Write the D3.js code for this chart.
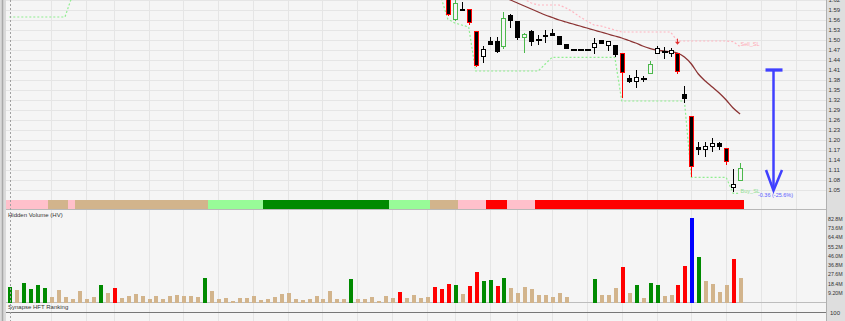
<!DOCTYPE html>
<html>
<head>
<meta charset="utf-8">
<script src="https://cdn.jsdelivr.net/npm/d3@7"></script>
<style>
  html, body { margin: 0; padding: 0; background: #f5f5f5; overflow: hidden; }
  text { font-family: "Liberation Sans", Arial, sans-serif; }
</style>
</head>
<body>
<div id="chart"></div>
<script>
// ---- data ----
// candles: first visible bar is day 63, earlier ones sit above the price range
const candleStart = 63;
const opens  = [1.635, 1.560, 1.592, 1.592, 1.527, 1.449, 1.497, 1.498, 1.478, 1.575, 1.558, 1.507, 1.528, 1.501, 1.515,
                1.520, 1.513, 1.487, 1.472, 1.472, 1.472, 1.475, 1.500, 1.482, 1.485, 1.462, 1.387, 1.375, 1.385, 1.398,
                1.458, 1.467, 1.458, 1.462, 1.338, 1.272, 1.178, 1.170, 1.180, 1.192, 1.177, 1.055, 1.077];
const highs  = [1.645, 1.625, 1.615, 1.592, 1.527, 1.482, 1.510, 1.509, 1.585, 1.577, 1.558, 1.521, 1.530, 1.515, 1.530,
                1.532, 1.513, 1.487, 1.472, 1.472, 1.472, 1.505, 1.500, 1.497, 1.485, 1.462, 1.395, 1.410, 1.393, 1.437,
                1.482, 1.479, 1.476, 1.462, 1.362, 1.272, 1.195, 1.195, 1.207, 1.195, 1.177, 1.113, 1.132];
const lows   = [1.572, 1.557, 1.587, 1.545, 1.420, 1.431, 1.485, 1.461, 1.472, 1.535, 1.500, 1.460, 1.482, 1.485, 1.492,
                1.512, 1.485, 1.472, 1.472, 1.472, 1.472, 1.457, 1.487, 1.467, 1.450, 1.325, 1.370, 1.355, 1.375, 1.398,
                1.458, 1.443, 1.450, 1.398, 1.310, 1.090, 1.155, 1.148, 1.165, 1.170, 1.125, 1.045, 1.077];
const closes = [1.575, 1.612, 1.587, 1.550, 1.422, 1.473, 1.485, 1.465, 1.567, 1.558, 1.505, 1.518, 1.495, 1.502, 1.508,
                1.512, 1.485, 1.472, 1.472, 1.472, 1.472, 1.490, 1.487, 1.497, 1.455, 1.400, 1.375, 1.390, 1.385, 1.428,
                1.475, 1.464, 1.470, 1.405, 1.323, 1.120, 1.170, 1.182, 1.192, 1.180, 1.135, 1.068, 1.117];
// candle outline: r = red border, g = green border, - = plain
const candleMarks = ["r","g","-","r","r","-","-","-","g","-","-","g","-","-","-",
                     "-","-","-","-","-","-","-","-","-","-","r","-","-","-","g",
                     "-","-","-","r","-","r","-","-","-","-","r","-","g"];

// hidden volume (millions), one per day 0..105, and its colour class
const hiddenVolume = [15.6, 12.4, 19.6, 13.7, 17.6, 14.7, 5.4, 12.4, 5.7, 3.5, 11.1, 3.2, 5.4, 17.0, 9.7, 14.0,
                      4.5, 6.4, 8.7, 6.4, 3.2, 6.4, 3.2, 6.7, 7.7, 6.4, 6.7, 5.7, 24.0, 11.4, 3.5, 4.2,
                      1.5, 4.5, 4.2, 6.4, 2.5, 3.5, 5.4, 8.4, 9.1, 3.2, 2.5, 3.5, 6.4, 3.2, 11.1, 3.2,
                      3.2, 23.0, 3.2, 3.5, 5.1, 1.5, 6.4, 4.5, 10.1, 4.5, 7.1, 4.8, 5.4, 15.3, 13.0, 18.0,
                      17.0, 8.7, 16.0, 30.2, 21.3, 22.3, 16.3, 24.6, 14.7, 9.4, 15.3, 13.0, 7.1, 7.7, 5.1, 9.7,
                      5.7, 0, 0, 0, 23.0, 7.1, 7.4, 14.7, 34.9, 9.4, 17.3, 4.2, 19.3, 17.3, 6.4, 7.1,
                      17.0, 36.4, 83.7, 45.3, 21.6, 18.3, 10.1, 17.3, 43.1, 24.3];
// g = green, t = tan, r = red, b = blue; ten days per chunk
const volumeClass = ["gtggggtttt", "tttgtrtttt", "ttttttttgt", "tttttttttt", "tttttttttg",
                     "ttttttrttt", "trrrgtrrgg", "rgtttttttt", "ttttgtttrt", "gtggttrrbg",
                     "ttttrt"].join("").split("");

// HFT ranking strip, run lengths in days
const rankingClass = ["weakSell", "neutral", "weakSell", "neutral", "weakBuy", "strongBuy", "weakBuy", "neutral", "weakSell", "strongSell", "weakSell", "strongSell"];
const rankingDays  = [6, 3, 1, 19, 8, 18, 6, 4, 4, 3, 4, 30];

// stop lines (day, price)
const buySLDay   = [0, 8, 9, 62, 63, 64, 65, 66, 67, 76, 77, 78, 87, 88, 97, 98, 103, 104, 105];
const buySLPrice = [1.569, 1.569, 1.63, 1.63, 1.563, 1.551, 1.545, 1.539, 1.407, 1.407, 1.428, 1.448, 1.448, 1.317, 1.317, 1.088, 1.088, 1.040, 1.040];
const sellSLDay   = [73, 74, 75, 76, 79, 80, 81, 82, 83, 84, 85, 86, 87, 88, 95, 96, 103, 104, 105];
const sellSLPrice = [1.64, 1.622, 1.611, 1.605, 1.605, 1.596, 1.584, 1.569, 1.557, 1.545, 1.542, 1.536, 1.530, 1.524, 1.524, 1.497, 1.497, 1.495, 1.480];

// moving average, days 70..105
const maStart = 70;
const maValues = [1.640, 1.630, 1.620, 1.611, 1.602, 1.593, 1.584, 1.575, 1.5675, 1.560, 1.554, 1.548, 1.542, 1.536,
                  1.530, 1.524, 1.518, 1.512, 1.506, 1.4985, 1.491, 1.482, 1.475, 1.470, 1.467, 1.465, 1.461, 1.449,
                  1.428, 1.398, 1.377, 1.359, 1.341, 1.320, 1.296, 1.278];

const sellSignalDay = [96];
const sellSignalPrice = [1.486];

// measured drop annotation
const measureDay = 109.8;
const measureHigh = 1.41;
const measureLow = 1.05;
const measureText = "-0.36 (-25.6%)";

// week separators (day index)
const weekLines = [6, 11, 15, 20, 25, 30, 35, 40, 45, 50, 55, 60, 64, 69, 73, 78, 83, 88, 93, 98, 103, 108, 113];

const priceTicks = [1.62, 1.59, 1.56, 1.53, 1.50, 1.47, 1.44, 1.41, 1.38, 1.35, 1.32, 1.29, 1.26, 1.23, 1.20, 1.17, 1.14, 1.11, 1.08, 1.05];
const volumeTicks = [9.2, 18.4, 27.6, 36.8, 46.0, 55.2, 64.4, 73.6, 82.8];
const volumeTickLabels = ["9.20M", "18.4M", "27.6M", "36.8M", "46.0M", "55.2M", "64.4M", "73.6M", "82.8M"];

// ---- drawing ----
const width = 845, height = 321;
const axisLeft = 826;
const volColors = { g: "#008a00", t: "#d2b48c", r: "#ff0000", b: "#0000ff" };
const rankColors = { weakSell: "#ffc0cb", neutral: "#d2b48c", weakBuy: "#98fb98", strongBuy: "#008a00", strongSell: "#ff0000" };

const svg = d3.select("#chart").append("svg")
    .attr("width", width)
    .attr("height", height)
    .style("display", "block");

svg.append("rect").attr("width", width).attr("height", height).attr("fill", "#f5f5f5");

const x = d3.scaleLinear().domain([0, 105]).range([9.3, 740.1]);
const y = d3.scaleLinear().domain([1.05, 1.62]).range([190, 0]);
const yv = d3.scaleLinear().domain([0, 82.8]).range([302.5, 218.9]);
const px = i => Math.round(x(i));

svg.append("defs").append("clipPath").attr("id", "priceClip")
  .append("rect").attr("x", 6).attr("y", 0).attr("width", axisLeft - 6).attr("height", 200);

// grid
const grid = svg.append("g").attr("shape-rendering", "crispEdges");
grid.selectAll("line.h").data(priceTicks).join("line")
    .attr("class", "h")
    .attr("x1", 6).attr("x2", axisLeft)
    .attr("y1", d => Math.round(y(d)) + 0.5).attr("y2", d => Math.round(y(d)) + 0.5)
    .attr("stroke", "#e5e5e5");
grid.selectAll("line.v").data(weekLines).join("line")
    .attr("class", "v")
    .attr("x1", d => px(d) + 0.5).attr("x2", d => px(d) + 0.5)
    .attr("y1", 0).attr("y2", height)
    .attr("stroke", "#e5e5e5");

// price panel
const price = svg.append("g").attr("clip-path", "url(#priceClip)");

const lineFrom = (days, vals) => d3.line().x((d, k) => x(days[k])).y(d => y(d))(vals);

price.append("path")
    .attr("d", lineFrom(buySLDay, buySLPrice))
    .attr("fill", "none").attr("stroke", "#90ee90").attr("stroke-width", 1.2)
    .attr("stroke-dasharray", "2,2");
price.append("path")
    .attr("d", lineFrom(sellSLDay, sellSLPrice))
    .attr("fill", "none").attr("stroke", "#ffb6c1").attr("stroke-width", 1.2)
    .attr("stroke-dasharray", "2,2");

price.append("path")
    .attr("d", d3.line().curve(d3.curveMonotoneX)
        .x((d, k) => x(maStart + k)).y(d => y(d))(maValues))
    .attr("fill", "none").attr("stroke", "#8b3333").attr("stroke-width", 1.3);

const candles = opens.map((o, k) => ({
    i: candleStart + k, o, h: highs[k], l: lows[k], c: closes[k], mark: candleMarks[k]
}));
const cg = price.append("g").attr("shape-rendering", "crispEdges");
candles.forEach(d => {
    const cx = px(d.i) + 0.5;
    const up = d.c > d.o;
    let stroke = "#000", fill = up ? "#fff" : "#000";
    if (d.mark === "r") { stroke = "#ff0000"; fill = "#000"; }
    if (d.mark === "g") { stroke = "#4cb84c"; fill = "#f5f5f5"; }
    const top = Math.round(y(Math.max(d.o, d.c)));
    const bot = Math.round(y(Math.min(d.o, d.c)));
    if (d.h > d.l) {
        cg.append("line")
            .attr("x1", cx).attr("x2", cx)
            .attr("y1", Math.round(y(d.h))).attr("y2", Math.round(y(d.l)))
            .attr("stroke", stroke);
    }
    if (bot - top < 2) {
        cg.append("rect")
            .attr("x", cx - 3).attr("y", top - 0.5)
            .attr("width", 6).attr("height", 2)
            .attr("fill", "#000");
    } else {
        cg.append("rect")
            .attr("x", cx - 2).attr("y", top + 0.5)
            .attr("width", 4).attr("height", bot - top - 1)
            .attr("fill", fill).attr("stroke", stroke);
    }
});

// sell signal arrow
sellSignalDay.forEach((dd, k) => {
    const cx = px(dd) + 0.5, tip = y(sellSignalPrice[k]);
    price.append("line").attr("x1", cx).attr("x2", cx).attr("y1", tip - 6).attr("y2", tip - 2)
        .attr("stroke", "#e03030").attr("stroke-width", 1);
    price.append("path")
        .attr("d", `M${cx - 2.5},${tip - 3}L${cx + 2.5},${tip - 3}L${cx},${tip}Z`)
        .attr("fill", "#e03030");
});

// stop labels
price.append("text").attr("x", x(105) + 0.5).attr("y", y(buySLPrice[buySLPrice.length - 1]) - 0.5)
    .attr("font-size", "5.5px").attr("fill", "#90e090").text("Buy_SL");
price.append("text").attr("x", x(105) + 0.5).attr("y", y(sellSLPrice[sellSLPrice.length - 1]) - 0.5)
    .attr("font-size", "5.5px").attr("fill", "#ffa8b4").text("Sell_SL");

// measure annotation
const mx = x(measureDay);
const blue = "#4040ff";
svg.append("line").attr("x1", mx).attr("x2", mx).attr("y1", y(measureHigh)).attr("y2", y(measureLow))
    .attr("stroke", blue).attr("stroke-width", 2.5);
svg.append("line").attr("x1", mx - 8).attr("x2", mx + 9).attr("y1", y(measureHigh)).attr("y2", y(measureHigh))
    .attr("stroke", blue).attr("stroke-width", 3.3);
svg.append("path")
    .attr("d", `M${mx - 7.5},${y(measureLow) - 20}L${mx},${y(measureLow) + 0.5}L${mx + 8.5},${y(measureLow) - 20}`)
    .attr("fill", "none").attr("stroke", blue).attr("stroke-width", 2.5);
svg.append("text").attr("x", mx + 2).attr("y", y(measureLow) + 7)
    .attr("text-anchor", "middle").attr("font-size", "5.5px").attr("fill", "#5a5aff")
    .text(measureText);

// ranking strip
let startDay = 0;
const runs = rankingClass.map((c, k) => {
    const r = { c, s: startDay, e: startDay + rankingDays[k] };
    startDay = r.e;
    return r;
});
svg.append("g").attr("shape-rendering", "crispEdges")
  .selectAll("rect").data(runs).join("rect")
    .attr("x", d => x(d.s - 0.5)).attr("width", d => x(d.e - 0.5) - x(d.s - 0.5))
    .attr("y", 200).attr("height", 9)
    .attr("fill", d => rankColors[d.c]);

// panel separators
const sep = svg.append("g").attr("shape-rendering", "crispEdges");
sep.append("line").attr("x1", 6).attr("x2", axisLeft).attr("y1", 209.5).attr("y2", 209.5).attr("stroke", "#b8b8b8");
sep.append("line").attr("x1", 6).attr("x2", axisLeft).attr("y1", 302.5).attr("y2", 302.5).attr("stroke", "#bdbdbd");
sep.append("line").attr("x1", 6).attr("x2", axisLeft + 3).attr("y1", 312.5).attr("y2", 312.5).attr("stroke", "#777");

// hidden volume bars
svg.append("g").attr("shape-rendering", "crispEdges")
  .selectAll("rect").data(hiddenVolume).join("rect")
    .attr("x", (d, i) => px(i) - 1.5)
    .attr("width", 4)
    .attr("y", d => yv(d))
    .attr("height", d => yv(0) - yv(d))
    .attr("fill", (d, i) => volColors[volumeClass[i]]);

svg.append("text").attr("x", 8).attr("y", 216.5).attr("font-size", "6px").attr("fill", "#333")
    .text("Hidden Volume (HV)");
svg.append("text").attr("x", 8).attr("y", 309).attr("font-size", "6px").attr("fill", "#333")
    .text("Synapse HFT Ranking");

// left edge + dotted cursor
svg.append("rect").attr("x", 0).attr("y", 0).attr("width", 6).attr("height", height).attr("fill", "#dadada");
svg.append("line").attr("x1", 2.5).attr("x2", 2.5).attr("y1", 0).attr("y2", height)
    .attr("stroke", "#a8a8a8").attr("stroke-width", 1.5);
svg.append("line").attr("x1", 10.5).attr("x2", 10.5).attr("y1", 0).attr("y2", height)
    .attr("stroke", "#a0a0a0").attr("stroke-dasharray", "2,2");

// right axis panel
svg.append("rect").attr("x", axisLeft).attr("y", 0).attr("width", width - axisLeft).attr("height", height)
    .attr("fill", "#dedede");
svg.append("line").attr("x1", axisLeft + 0.5).attr("x2", axisLeft + 0.5).attr("y1", 0).attr("y2", height)
    .attr("stroke", "#b0b0b0");

const fmt = d3.format(".2f");
svg.append("g").selectAll("text").data(priceTicks).join("text")
    .attr("x", axisLeft + 2.5).attr("y", d => y(d))
    .attr("dy", "0.35em")
    .attr("font-size", "6px").attr("fill", "#333")
    .text(d => fmt(d));

svg.append("g").selectAll("text").data(volumeTicks).join("text")
    .attr("x", axisLeft + 2).attr("y", d => yv(d))
    .attr("dy", "0.35em")
    .attr("font-size", "5.3px").attr("fill", "#333")
    .text((d, k) => volumeTickLabels[k]);

svg.append("text").attr("x", axisLeft + 4).attr("y", 312.5).attr("dy", "0.35em")
    .attr("font-size", "6px").attr("fill", "#333")
    .text("100");
</script>
</body>
</html>
